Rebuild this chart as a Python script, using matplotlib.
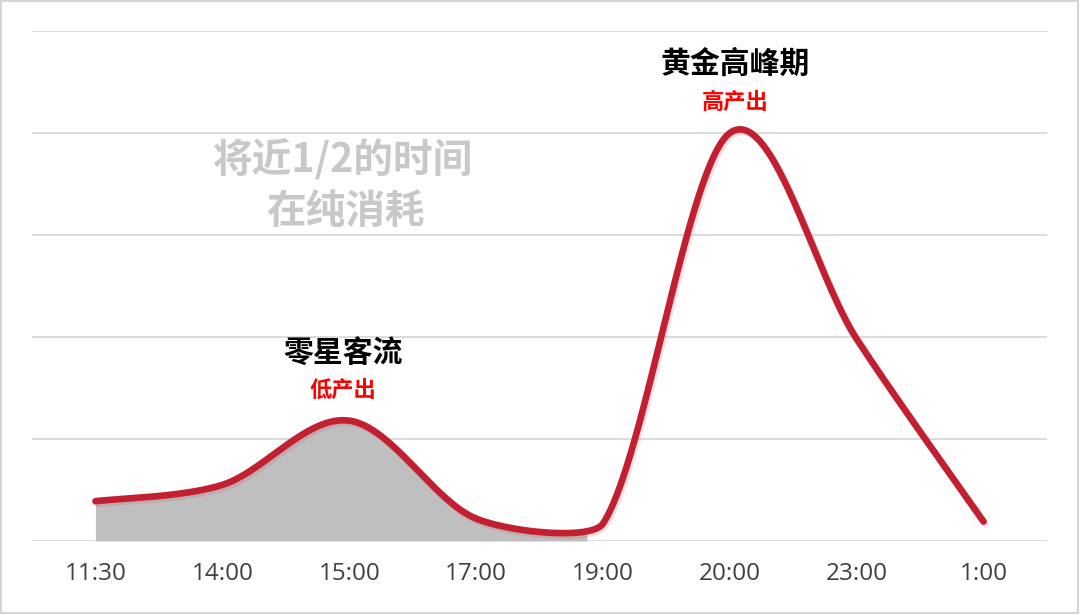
import numpy as np
import matplotlib
matplotlib.use("Agg")
import matplotlib.pyplot as plt
import matplotlib.patheffects as pe
from matplotlib.patches import Rectangle

# ---- data ----
categories = ["11:30", "14:00", "15:00", "17:00", "19:00", "20:00", "23:00", "1:00"]
values = [0.39, 0.55, 1.18, 0.22, 0.17, 4.0, 1.98, 0.19]
fill_end = 3.88          # grey area covers 11:30 .. just before 19:00
y_max = 5

peak_title = "黄金高峰期"
peak_sub = "高产出"
low_title = "零星客流"
low_sub = "低产出"
note_lines = ["将近1/2的时间", "在纯消耗"]

LINE_C = "#C21F30"
FILL_C = "#BFBFBF"
GRID_C = "#D9D9D9"

W, H = 1080, 615
fig = plt.figure(figsize=(W / 100, H / 100), dpi=100)
ax = fig.add_axes([32 / W, 74 / H, (1047 - 32) / W, (541 - 31) / H])
ax.set_xlim(-0.5, len(categories) - 0.5)
ax.set_ylim(0, y_max)

# smooth curve (Excel-like bezier smoothing) computed in display space
x = np.arange(len(categories), dtype=float)
P = ax.transData.transform(np.column_stack([x, values]))
n = len(P)
def unit(v):
    d = np.hypot(*v)
    return v / d if d > 0 else v
segs = []
for i in range(n - 1):
    p1, p2 = P[i], P[i + 1]
    p0 = P[i - 1] if i > 0 else P[i]
    p3 = P[i + 2] if i + 2 < n else P[i + 1]
    d12 = np.hypot(*(p2 - p1))
    d01 = np.hypot(*(p1 - p0)) if i > 0 else d12
    d23 = np.hypot(*(p3 - p2)) if i + 2 < n else d12
    L1 = min(np.hypot(*(p2 - p0)) / 6, (2 / 3) * d12 * d12 / (d01 + d12))
    L2 = min(np.hypot(*(p3 - p1)) / 6, (2 / 3) * d12 * d12 / (d12 + d23))
    c1 = p1 + unit(p2 - p0) * L1
    c2 = p2 - unit(p3 - p1) * L2
    t = np.linspace(0, 1, 120)[:, None]
    b = (1 - t) ** 3 * p1 + 3 * (1 - t) ** 2 * t * c1 + 3 * (1 - t) * t ** 2 * c2 + t ** 3 * p2
    segs.append(b if i == 0 else b[1:])
curve = np.vstack(segs)
curve = ax.transData.inverted().transform(curve)
cx, cy = curve[:, 0], curve[:, 1]

m = cx <= fill_end
ax.fill_between(cx[m], 0, cy[m], color=FILL_C, lw=0, zorder=2)
ax.plot(cx, cy, color=LINE_C, lw=4.8, solid_capstyle="round", zorder=3,
        path_effects=[pe.SimpleLineShadow(offset=(1.5, -2), shadow_color=LINE_C, alpha=0.12),
                      pe.Normal()])

# grid
ax.set_yticks(np.arange(0, y_max + 1, 1))
ax.yaxis.grid(True, color=GRID_C, lw=1.3)
ax.set_axisbelow(True)
ax.tick_params(axis="y", left=False, labelleft=False)
for s in ax.spines.values():
    s.set_visible(False)
ax.set_xticks(x)
ax.set_xticklabels(categories, fontsize=17.5, color="#404040", family="Open Sans")
ax.tick_params(axis="x", length=0, pad=15)

cjk = ["Noto Sans CJK SC", "DejaVu Sans"]
ax.text(5.04, 4.68, peak_title, ha="center", va="center", fontsize=21.5, fontweight="bold",
        color="black", family=cjk)
ax.text(5.04, 4.3, peak_sub, ha="center", va="center", fontsize=16, fontweight="bold",
        color="#FF0000", family=cjk)
ax.text(1.95, 1.84, low_title, ha="center", va="center", fontsize=21.5, fontweight="bold",
        color="black", family=cjk)
ax.text(1.95, 1.47, low_sub, ha="center", va="center", fontsize=16, fontweight="bold",
        color="#FF0000", family=cjk)
ax.text(1.95, 3.73, note_lines[0], ha="center", va="center", fontsize=28.5, fontweight="bold",
        color="#C8C8C8", family=cjk)
ax.text(1.97, 3.23, note_lines[1], ha="center", va="center", fontsize=28.5, fontweight="bold",
        color="#C8C8C8", family=cjk)

fig.patches.append(Rectangle((0.5 / W, 2 / H), (W - 3) / W, (H - 3) / H, transform=fig.transFigure,
                             fill=False, edgecolor="#D4D4D4", lw=1.5))

fig.savefig("out.png", dpi=100)
